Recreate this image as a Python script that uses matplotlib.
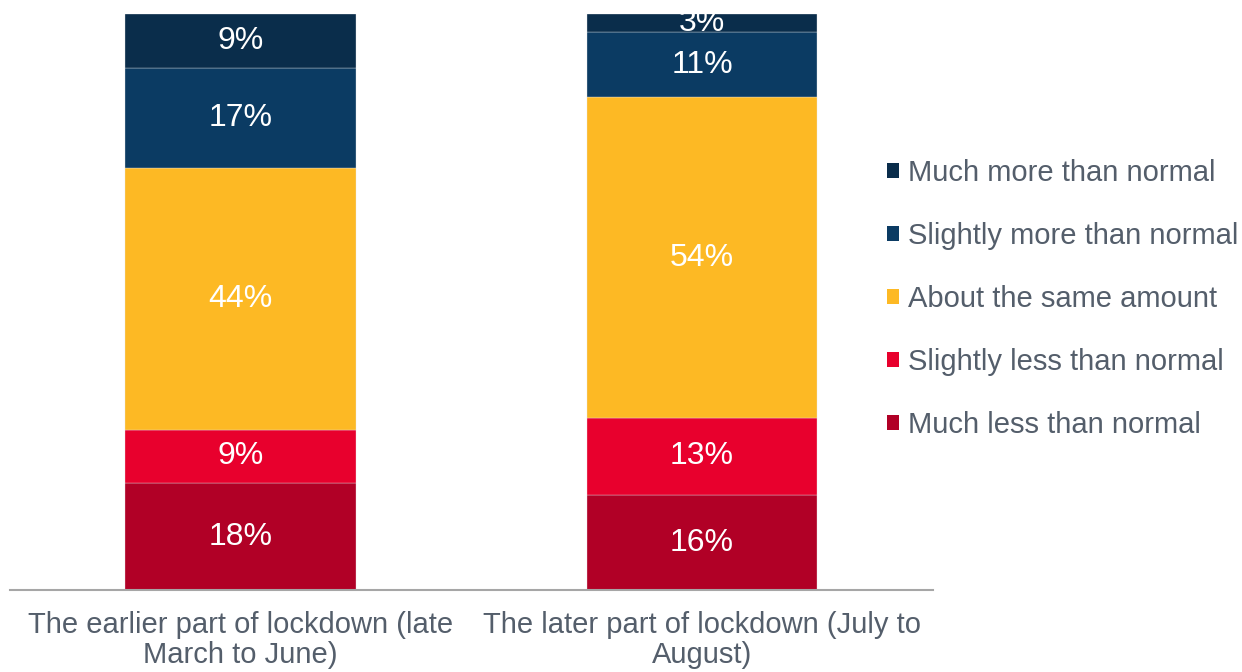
import numpy as np
import matplotlib
matplotlib.use('Agg')
import matplotlib.pyplot as plt
from matplotlib.patches import Patch

plt.rcParams['font.family'] = ['Liberation Sans', 'DejaVu Sans']

categories = ['The earlier part of lockdown (late\nMarch to June)',
              'The later part of lockdown (July to\nAugust)']
series = ['Much less than normal', 'Slightly less than normal',
          'About the same amount', 'Slightly more than normal',
          'Much more than normal']
much_less = [18, 16]
slightly_less = [9, 13]
same = [44, 54]
slightly_more = [17, 11]
much_more = [9, 3]
colors = ['#B10026', '#E8002D', '#FDB924', '#0B3B63', '#0A2D4B']
text_grey = '#545E6B'

values = np.array([much_less, slightly_less, same, slightly_more, much_more], dtype=float)
# bars are drawn as share of each bar's total (the rounded labels sum to 97)
shares = values / values.sum(axis=0) * 100

fig = plt.figure(figsize=(12.42, 6.72), dpi=100)
ax = fig.add_axes([0.008, 0.122, 0.743, 0.857])

x = np.arange(len(categories))
bottom = np.zeros(len(categories))
for i in range(len(series)):
    ax.bar(x, shares[i], 0.5, bottom=bottom, color=colors[i],
           edgecolor='#E6E6E6', linewidth=0.25, label=series[i])
    for j in range(len(categories)):
        ax.text(x[j], bottom[j] + shares[i][j] / 2, f'{int(values[i][j])}%',
                ha='center', va='center', color='white', fontsize=23)
    bottom += shares[i]

ax.set_xlim(-0.5, 1.5)
ax.set_ylim(0, 100)
ax.set_xticks(x)
ax.set_xticklabels(categories, fontsize=21, color=text_grey, linespacing=1.08)
ax.tick_params(axis='x', length=0, pad=15)
ax.set_yticks([])
for s in ['top', 'right', 'left']:
    ax.spines[s].set_visible(False)
ax.spines['bottom'].set_color('#A6A6A6')
ax.spines['bottom'].set_linewidth(1.5)

handles = [Patch(facecolor=colors[i], label=series[i]) for i in range(len(series))][::-1]
fig.legend(handles=handles, loc='center left', bbox_to_anchor=(0.714, 0.555),
           frameon=False, fontsize=21, labelcolor=text_grey, borderpad=0,
           handlelength=0.42, handleheight=0.42, handletextpad=0.3,
           labelspacing=1.2, borderaxespad=0)

fig.savefig('out.png', dpi=100)
